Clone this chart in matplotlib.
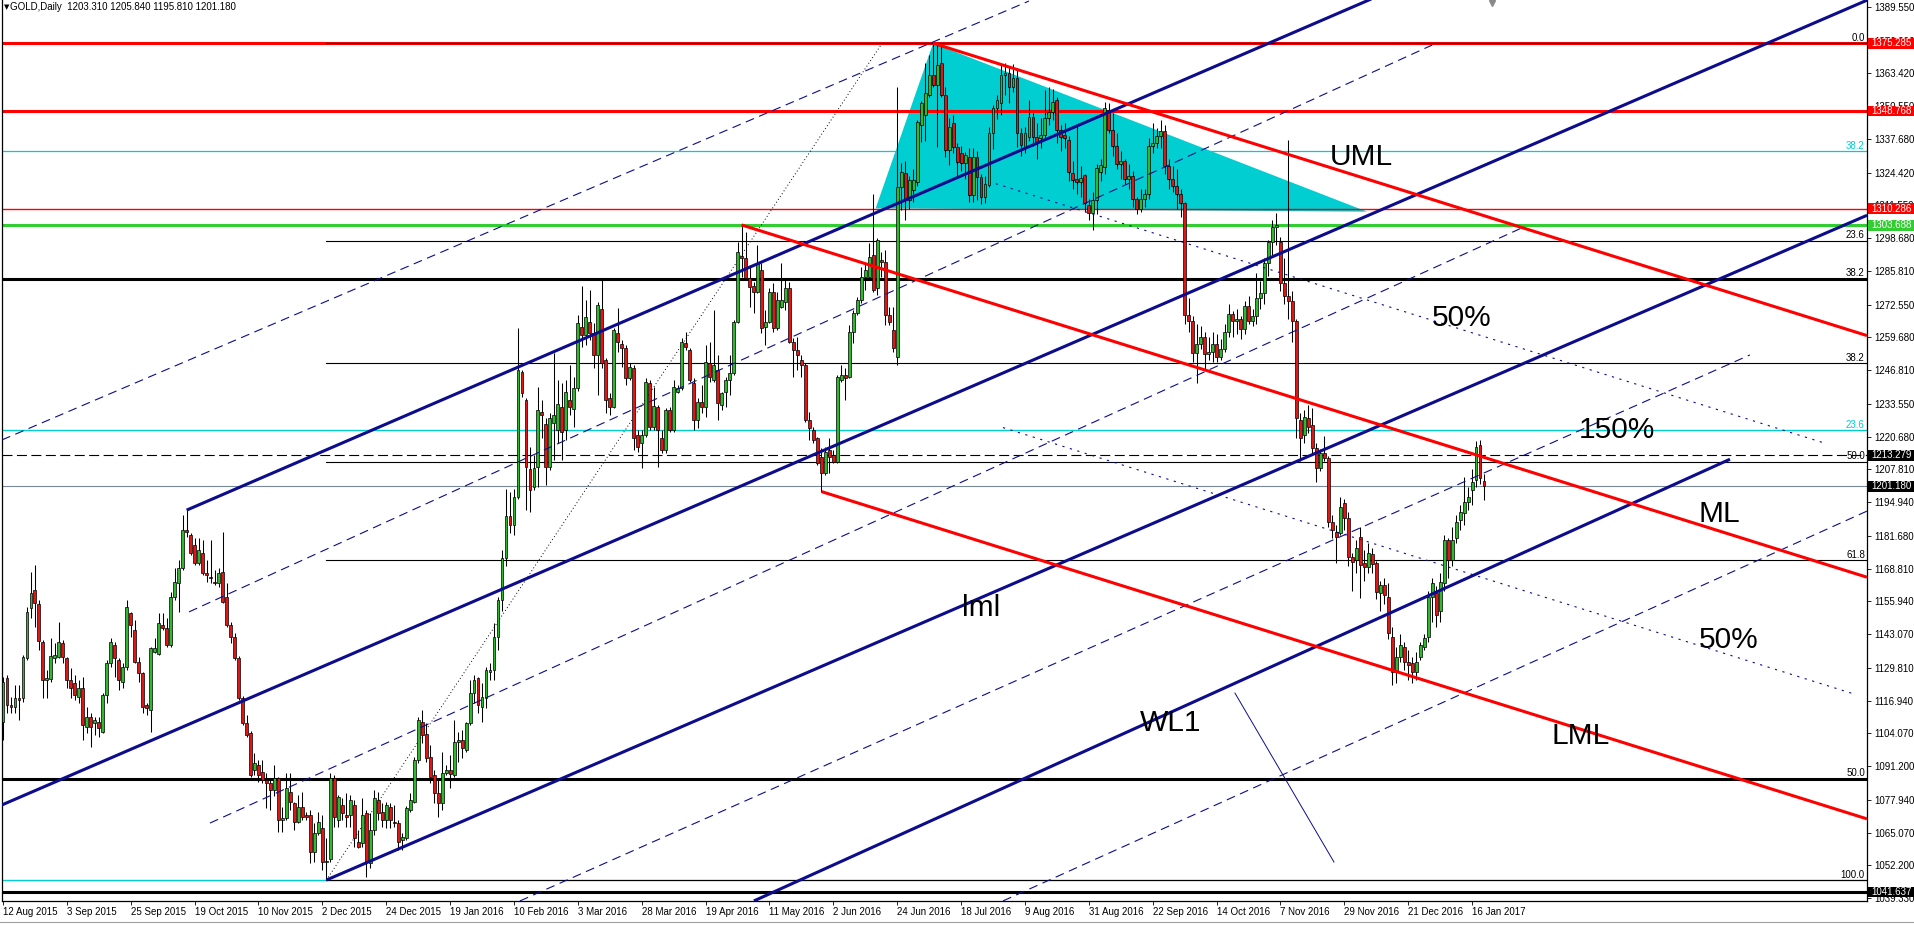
import numpy as np
import matplotlib
matplotlib.use("Agg")
import matplotlib.pyplot as plt
import matplotlib.transforms as mtransforms
from matplotlib.patches import Rectangle, Polygon
from matplotlib.lines import Line2D

plt.rcParams['font.family'] = ['Liberation Sans', 'DejaVu Sans']

# ---------------- daily OHLC (GOLD, 12 Aug 2015 .. 19 Jan 2017) ----------------
OPEN = [
    1108.7, 1125.7, 1115.2, 1114.6, 1117.8, 1117.8, 1133.6, 1153.2, 1160.4, 1154.9, 1140.1, 1125.0, 1125.5, 1133.6, 1134.2, 1139.7,
    1133.6, 1125.0, 1123.7, 1118.5, 1121.8, 1106.7, 1110.6, 1108.0, 1108.7, 1104.7, 1119.1, 1131.6, 1138.8, 1132.9, 1124.4, 1130.3,
    1151.2, 1144.7, 1132.2, 1127.7, 1115.2, 1113.3, 1136.2, 1135.3, 1146.7, 1145.3, 1138.8, 1157.8, 1163.0, 1168.9, 1184.0, 1182.0,
    1178.1, 1170.9, 1174.8, 1167.0, 1165.6, 1163.7, 1163.0, 1167.6, 1157.8, 1146.7, 1142.1, 1133.6, 1117.8, 1108.0, 1104.1, 1089.7,
    1091.6, 1089.0, 1085.7, 1084.4, 1081.8, 1086.4, 1070.0, 1070.7, 1081.1, 1076.6, 1069.4, 1075.3, 1071.9, 1071.9, 1057.6, 1064.8,
    1066.7, 1053.6, 1054.5, 1086.4, 1070.0, 1076.0, 1071.9, 1071.9, 1076.0, 1061.5, 1060.8, 1072.6, 1053.0, 1066.1, 1077.9, 1073.3,
    1070.0, 1075.3, 1069.4, 1068.7, 1062.2, 1062.8, 1073.9, 1077.2, 1093.6, 1108.7, 1104.0, 1094.9, 1087.7, 1080.5, 1076.6, 1088.4,
    1089.7, 1087.7, 1100.8, 1101.5, 1097.5, 1108.0, 1119.8, 1125.7, 1114.6, 1117.8, 1128.3, 1129.0, 1142.1, 1156.5, 1173.0, 1189.5,
    1186.0, 1197.1, 1246.2, 1235.1, 1207.8, 1200.8, 1208.9, 1230.5, 1225.7, 1208.9, 1225.9, 1223.3, 1232.5, 1223.3, 1235.1, 1231.4,
    1239.7, 1263.9, 1260.6, 1265.6, 1261.3, 1252.8, 1270.7, 1250.8, 1235.7, 1232.5, 1261.3, 1257.1, 1255.4, 1243.6, 1247.5, 1221.3,
    1218.1, 1221.3, 1241.9, 1224.6, 1232.5, 1220.0, 1215.4, 1231.2, 1223.3, 1238.4, 1239.7, 1257.6, 1254.7, 1241.6, 1227.2, 1234.4,
    1232.5, 1249.5, 1242.9, 1246.9, 1233.1, 1238.4, 1242.9, 1245.6, 1265.9, 1291.7, 1290.8, 1282.9, 1279.9, 1277.7, 1286.0, 1263.9,
    1265.9, 1277.7, 1263.3, 1271.8, 1273.7, 1279.0, 1258.0, 1254.7, 1250.8, 1248.8, 1227.2, 1223.3, 1220.0, 1212.8, 1206.3, 1215.4,
    1213.5, 1210.9, 1242.9, 1244.9, 1244.3, 1262.0, 1269.2, 1274.4, 1283.6, 1283.6, 1292.1, 1279.0, 1290.1, 1289.5, 1268.5, 1262.6,
    1252.0, 1318.9, 1324.2, 1313.7, 1317.6, 1320.9, 1343.0, 1347.1, 1355.0, 1362.8, 1358.9, 1367.4, 1355.0, 1333.3, 1343.8, 1334.7,
    1332.0, 1328.1, 1330.7, 1315.7, 1330.7, 1322.9, 1315.0, 1319.6, 1339.9, 1349.7, 1351.7, 1362.8, 1363.5, 1358.2, 1361.5, 1339.9,
    1334.7, 1338.6, 1346.4, 1338.6, 1337.9, 1339.2, 1345.8, 1348.4, 1353.0, 1341.2, 1339.2, 1337.3, 1324.2, 1321.8, 1320.9, 1323.5,
    1311.7, 1308.4, 1313.7, 1324.8, 1326.8, 1349.0, 1341.2, 1335.0, 1328.0, 1329.0, 1322.0, 1323.0, 1314.0, 1310.0, 1314.0, 1316.0,
    1335.0, 1336.0, 1339.0, 1341.0, 1327.0, 1322.0, 1319.0, 1316.0, 1312.4, 1268.5, 1266.0, 1253.4, 1257.0, 1260.0, 1253.0, 1254.0,
    1257.0, 1252.0, 1255.0, 1262.0, 1269.0, 1266.0, 1267.0, 1263.0, 1272.0, 1266.0, 1268.0, 1275.0, 1277.0, 1289.0, 1297.0, 1303.0,
    1297.0, 1281.0, 1276.0, 1274.0, 1266.0, 1227.2, 1221.3, 1227.9, 1225.3, 1216.1, 1208.2, 1214.1, 1212.2, 1187.3, 1183.3, 1182.7,
    1194.5, 1188.6, 1173.5, 1172.2, 1181.4, 1170.9, 1169.6, 1174.6, 1170.9, 1159.1, 1162.4, 1157.8, 1142.1, 1128.3, 1134.2, 1138.1,
    1132.3, 1131.6, 1128.3, 1134.2, 1138.1, 1142.1, 1157.8, 1159.1, 1152.0, 1163.1, 1180.1, 1172.2, 1180.7, 1187.9, 1190.5, 1195.1,
    1199.7, 1203.6, 1217.4, 1203.31,
]
HIGH = [
    1126.4, 1127.0, 1118.5, 1123.1, 1123.1, 1134.9, 1153.9, 1167.6, 1170.2, 1156.5, 1140.8, 1129.0, 1141.4, 1139.4, 1148.0, 1140.8,
    1134.2, 1129.6, 1127.0, 1125.0, 1126.4, 1114.6, 1111.9, 1110.6, 1110.6, 1120.0, 1132.9, 1141.4, 1140.1, 1133.6, 1131.6, 1156.5,
    1151.9, 1148.6, 1134.2, 1128.3, 1115.9, 1138.1, 1141.4, 1151.2, 1151.2, 1149.3, 1159.8, 1168.9, 1172.2, 1189.9, 1191.8, 1182.7,
    1180.7, 1180.7, 1180.1, 1172.2, 1180.1, 1168.3, 1168.9, 1183.3, 1163.0, 1148.0, 1143.4, 1134.5, 1118.9, 1111.3, 1105.0, 1096.2,
    1093.6, 1093.6, 1088.4, 1086.4, 1091.5, 1087.0, 1075.3, 1088.4, 1088.4, 1077.2, 1079.8, 1081.1, 1073.3, 1073.9, 1068.7, 1073.3,
    1071.9, 1062.8, 1088.4, 1087.5, 1079.8, 1078.5, 1080.5, 1079.8, 1077.9, 1066.1, 1078.5, 1073.9, 1072.6, 1081.8, 1081.1, 1076.6,
    1077.2, 1076.6, 1075.9, 1070.0, 1064.8, 1075.5, 1080.5, 1094.9, 1110.6, 1113.3, 1108.0, 1099.5, 1089.7, 1086.4, 1096.9, 1091.6,
    1095.6, 1109.3, 1104.7, 1105.4, 1108.7, 1125.0, 1127.0, 1126.4, 1123.7, 1130.3, 1131.6, 1147.3, 1157.8, 1176.0, 1200.0, 1199.0,
    1200.0, 1263.3, 1246.9, 1235.7, 1216.7, 1213.5, 1240.3, 1235.1, 1227.9, 1229.9, 1253.4, 1242.9, 1241.6, 1242.9, 1248.8, 1244.3,
    1268.5, 1279.9, 1274.4, 1278.3, 1265.2, 1273.7, 1282.3, 1251.5, 1237.7, 1263.3, 1271.1, 1258.7, 1256.7, 1249.5, 1248.8, 1223.3,
    1223.3, 1243.6, 1243.0, 1240.3, 1233.1, 1223.3, 1231.8, 1232.5, 1242.9, 1241.0, 1259.3, 1262.0, 1255.4, 1243.6, 1235.7, 1241.0,
    1256.7, 1258.0, 1270.5, 1252.8, 1238.4, 1244.3, 1252.8, 1266.5, 1297.3, 1303.9, 1301.2, 1288.2, 1281.6, 1296.0, 1288.8, 1270.5,
    1279.0, 1281.0, 1277.7, 1288.8, 1282.3, 1281.6, 1259.3, 1260.0, 1252.8, 1249.5, 1230.5, 1224.6, 1220.7, 1216.1, 1216.7, 1220.0,
    1215.4, 1244.9, 1248.8, 1247.5, 1264.6, 1270.5, 1275.7, 1287.5, 1288.8, 1296.7, 1316.0, 1298.6, 1293.4, 1294.0, 1271.8, 1271.8,
    1358.2, 1328.1, 1329.0, 1323.0, 1326.0, 1345.0, 1352.5, 1367.4, 1370.7, 1375.3, 1374.6, 1374.6, 1358.2, 1346.0, 1347.0, 1336.0,
    1335.0, 1332.5, 1334.0, 1334.0, 1333.0, 1324.0, 1323.0, 1342.5, 1351.0, 1354.9, 1367.4, 1367.4, 1366.0, 1367.0, 1365.0, 1342.0,
    1342.5, 1353.0, 1348.0, 1344.0, 1346.0, 1357.0, 1358.0, 1357.5, 1354.0, 1343.0, 1344.0, 1339.0, 1329.0, 1343.0, 1327.0, 1324.0,
    1314.0, 1317.0, 1328.0, 1330.0, 1352.3, 1352.0, 1348.0, 1340.0, 1333.0, 1330.0, 1328.0, 1325.0, 1315.0, 1318.0, 1318.0, 1338.0,
    1344.0, 1342.0, 1345.0, 1343.0, 1330.0, 1327.0, 1326.0, 1318.0, 1313.0, 1275.0, 1268.0, 1265.0, 1264.0, 1262.0, 1260.0, 1262.0,
    1261.0, 1259.0, 1265.0, 1273.0, 1270.0, 1271.0, 1268.0, 1274.0, 1276.0, 1271.0, 1285.0, 1282.0, 1291.0, 1298.0, 1306.0, 1308.5,
    1299.0, 1291.0, 1337.3, 1278.0, 1267.0, 1230.0, 1231.0, 1233.0, 1232.0, 1218.0, 1216.0, 1221.0, 1213.0, 1190.0, 1186.0, 1197.0,
    1196.0, 1191.0, 1175.0, 1180.0, 1185.3, 1176.0, 1179.0, 1177.0, 1172.0, 1164.0, 1165.0, 1163.0, 1146.0, 1138.0, 1143.0, 1140.0,
    1137.0, 1134.0, 1136.0, 1140.0, 1143.0, 1160.0, 1165.0, 1162.0, 1167.0, 1182.0, 1181.0, 1185.0, 1190.0, 1194.0, 1205.0, 1201.0,
    1208.0, 1219.0, 1219.5, 1205.84,
]
LOW = [
    1101.5, 1111.9, 1111.9, 1111.9, 1109.3, 1116.5, 1132.9, 1149.3, 1146.0, 1136.8, 1117.8, 1118.0, 1124.4, 1131.6, 1133.6, 1131.6,
    1121.8, 1117.8, 1117.2, 1115.9, 1101.5, 1104.1, 1098.8, 1103.4, 1102.8, 1104.1, 1115.9, 1130.3, 1126.4, 1121.1, 1121.8, 1129.0,
    1142.1, 1131.6, 1124.4, 1111.9, 1111.3, 1104.7, 1135.5, 1134.9, 1144.7, 1138.1, 1138.1, 1156.5, 1151.9, 1168.3, 1181.4, 1174.2,
    1170.2, 1170.2, 1166.3, 1163.7, 1163.0, 1162.4, 1161.7, 1155.2, 1146.0, 1139.4, 1132.9, 1117.2, 1107.4, 1102.8, 1087.0, 1087.7,
    1085.1, 1084.4, 1074.6, 1073.9, 1079.5, 1065.4, 1065.4, 1070.0, 1073.9, 1066.1, 1068.7, 1070.0, 1070.0, 1053.0, 1053.6, 1064.1,
    1050.4, 1046.4, 1053.6, 1067.4, 1067.4, 1070.0, 1067.4, 1067.4, 1059.5, 1058.9, 1059.5, 1047.7, 1051.0, 1064.1, 1070.0, 1067.4,
    1066.7, 1066.7, 1067.4, 1058.2, 1058.2, 1062.2, 1073.3, 1076.6, 1092.3, 1100.1, 1092.9, 1084.4, 1076.6, 1071.3, 1074.0, 1087.7,
    1082.5, 1087.0, 1092.9, 1094.2, 1096.9, 1107.4, 1115.9, 1111.9, 1108.7, 1113.9, 1125.0, 1125.0, 1136.8, 1152.0, 1170.0, 1183.0,
    1182.0, 1196.0, 1236.4, 1191.9, 1191.2, 1199.7, 1201.0, 1220.0, 1201.7, 1207.6, 1211.5, 1218.1, 1211.5, 1219.4, 1229.2, 1224.6,
    1238.5, 1256.0, 1256.7, 1258.7, 1247.5, 1237.1, 1247.5, 1229.9, 1229.2, 1231.8, 1254.1, 1248.2, 1241.0, 1242.9, 1215.4, 1214.8,
    1208.2, 1220.7, 1223.3, 1223.3, 1208.9, 1214.1, 1214.1, 1222.6, 1222.6, 1237.7, 1239.0, 1254.7, 1242.3, 1223.3, 1223.9, 1229.9,
    1228.5, 1242.3, 1242.3, 1227.2, 1231.2, 1232.5, 1237.1, 1244.9, 1265.2, 1283.6, 1282.3, 1271.8, 1269.2, 1277.0, 1261.3, 1256.7,
    1265.2, 1262.0, 1262.6, 1271.1, 1270.5, 1257.4, 1244.3, 1246.9, 1244.3, 1226.6, 1219.4, 1218.1, 1209.5, 1199.1, 1205.6, 1206.3,
    1210.2, 1210.2, 1242.3, 1235.1, 1243.6, 1257.4, 1268.5, 1273.1, 1278.3, 1282.9, 1277.7, 1276.4, 1283.6, 1264.6, 1264.6, 1254.1,
    1249.0, 1309.8, 1306.0, 1310.0, 1313.0, 1319.0, 1336.5, 1337.0, 1354.0, 1358.0, 1334.7, 1354.0, 1330.7, 1327.5, 1332.0, 1322.2,
    1325.0, 1322.0, 1313.0, 1313.0, 1313.5, 1312.0, 1312.5, 1318.9, 1333.9, 1345.5, 1347.0, 1355.0, 1352.0, 1356.0, 1334.5, 1331.0,
    1332.0, 1337.0, 1335.0, 1330.0, 1334.0, 1338.0, 1343.0, 1345.0, 1336.0, 1333.0, 1334.0, 1321.0, 1318.0, 1316.0, 1315.0, 1309.0,
    1306.0, 1302.0, 1308.0, 1321.0, 1324.0, 1340.0, 1331.0, 1326.0, 1322.0, 1320.0, 1318.0, 1311.0, 1308.0, 1309.0, 1311.0, 1314.0,
    1332.0, 1334.0, 1334.0, 1324.0, 1318.0, 1317.0, 1310.0, 1307.0, 1265.0, 1262.0, 1250.0, 1241.6, 1255.0, 1247.0, 1251.0, 1250.0,
    1250.0, 1251.0, 1254.0, 1260.0, 1260.0, 1261.0, 1259.0, 1261.0, 1265.0, 1264.0, 1265.0, 1271.0, 1273.0, 1284.0, 1292.0, 1296.0,
    1278.0, 1273.0, 1267.0, 1258.0, 1220.0, 1211.0, 1218.0, 1222.0, 1214.0, 1203.0, 1207.0, 1211.0, 1185.0, 1181.0, 1171.0, 1182.0,
    1184.0, 1170.0, 1160.0, 1167.0, 1157.1, 1164.0, 1167.0, 1167.0, 1157.0, 1152.0, 1155.0, 1141.0, 1123.1, 1124.0, 1132.0, 1129.0,
    1125.0, 1124.0, 1125.0, 1133.0, 1137.0, 1140.0, 1148.0, 1146.0, 1148.0, 1160.0, 1165.0, 1170.0, 1179.0, 1184.0, 1186.0, 1192.0,
    1194.0, 1201.0, 1202.0, 1195.81,
]
CLOSE = [
    1124.4, 1115.2, 1114.6, 1117.8, 1117.2, 1134.2, 1151.9, 1159.4, 1155.2, 1140.5, 1125.0, 1126.0, 1134.5, 1134.9, 1140.1, 1134.2,
    1125.0, 1121.8, 1119.1, 1121.8, 1107.4, 1110.6, 1106.7, 1109.3, 1106.1, 1119.1, 1131.6, 1140.1, 1133.6, 1125.0, 1130.3, 1153.9,
    1146.7, 1132.2, 1127.7, 1114.6, 1113.9, 1137.5, 1137.5, 1147.3, 1145.3, 1138.8, 1157.8, 1163.7, 1168.9, 1184.0, 1183.3, 1174.8,
    1170.9, 1176.1, 1167.0, 1166.3, 1165.0, 1163.0, 1167.0, 1155.8, 1146.7, 1142.1, 1133.6, 1117.8, 1108.0, 1103.4, 1087.7, 1092.3,
    1087.7, 1085.7, 1084.4, 1081.8, 1086.4, 1070.0, 1070.7, 1082.5, 1077.2, 1069.4, 1075.3, 1071.3, 1071.3, 1057.6, 1064.8, 1069.4,
    1053.6, 1054.0, 1086.4, 1071.3, 1079.2, 1072.6, 1071.3, 1077.9, 1062.8, 1059.5, 1071.9, 1053.6, 1066.1, 1078.5, 1072.6, 1070.0,
    1075.9, 1070.0, 1068.7, 1061.5, 1063.5, 1074.6, 1077.9, 1093.6, 1109.3, 1103.4, 1094.2, 1087.0, 1080.5, 1076.6, 1088.4, 1089.7,
    1088.0, 1100.8, 1101.5, 1098.2, 1108.0, 1119.8, 1125.0, 1115.2, 1118.5, 1129.0, 1129.0, 1142.1, 1156.5, 1173.0, 1189.5, 1186.0,
    1197.1, 1246.9, 1238.0, 1208.9, 1199.7, 1208.2, 1231.2, 1229.2, 1208.9, 1227.9, 1229.2, 1233.5, 1222.6, 1238.4, 1232.5, 1239.7,
    1265.2, 1260.6, 1267.8, 1261.6, 1252.8, 1272.4, 1249.5, 1235.1, 1232.5, 1262.6, 1258.0, 1255.4, 1243.6, 1248.2, 1220.0, 1216.7,
    1221.3, 1242.3, 1224.6, 1232.7, 1223.3, 1215.4, 1231.2, 1223.3, 1240.3, 1239.7, 1258.0, 1255.8, 1242.9, 1227.2, 1234.4, 1232.5,
    1250.2, 1244.3, 1248.8, 1233.8, 1237.7, 1242.9, 1245.6, 1265.9, 1293.4, 1290.8, 1282.9, 1279.6, 1277.7, 1288.8, 1263.3, 1265.9,
    1277.7, 1263.3, 1274.4, 1274.4, 1279.0, 1258.0, 1254.7, 1252.8, 1248.8, 1227.2, 1223.9, 1219.4, 1210.2, 1206.3, 1214.8, 1212.8,
    1210.9, 1244.3, 1244.9, 1243.6, 1262.0, 1269.2, 1274.4, 1283.6, 1286.2, 1291.4, 1278.3, 1298.0, 1289.5, 1268.5, 1265.9, 1255.4,
    1318.9, 1324.8, 1313.7, 1321.5, 1321.5, 1344.5, 1351.7, 1355.6, 1362.8, 1358.9, 1366.8, 1355.0, 1333.3, 1342.5, 1334.7, 1328.8,
    1328.1, 1331.4, 1315.7, 1330.7, 1322.9, 1315.0, 1320.0, 1339.9, 1349.7, 1353.0, 1362.8, 1363.5, 1358.2, 1361.5, 1339.9, 1335.3,
    1339.9, 1346.4, 1338.6, 1336.6, 1339.2, 1345.8, 1348.4, 1352.3, 1341.2, 1338.6, 1337.9, 1324.8, 1321.5, 1320.9, 1322.5, 1312.4,
    1308.4, 1313.7, 1326.1, 1327.4, 1349.7, 1341.2, 1335.0, 1328.0, 1329.0, 1322.0, 1323.0, 1314.0, 1310.0, 1314.0, 1316.0, 1335.0,
    1336.0, 1339.0, 1341.0, 1327.0, 1322.0, 1319.0, 1316.0, 1312.4, 1268.5, 1266.0, 1253.4, 1257.0, 1260.0, 1253.0, 1254.0, 1257.0,
    1252.0, 1255.0, 1262.0, 1269.0, 1266.0, 1267.0, 1263.0, 1272.0, 1266.0, 1268.0, 1275.0, 1277.0, 1289.0, 1297.0, 1303.0, 1304.0,
    1281.0, 1276.0, 1274.0, 1266.0, 1227.9, 1220.0, 1228.5, 1224.6, 1216.1, 1208.2, 1214.1, 1212.2, 1187.3, 1184.0, 1181.4, 1193.2,
    1188.6, 1173.5, 1171.5, 1176.8, 1170.2, 1169.6, 1174.8, 1170.6, 1159.8, 1162.4, 1158.4, 1143.4, 1128.3, 1134.2, 1138.8, 1132.3,
    1130.9, 1128.3, 1132.3, 1138.8, 1141.4, 1157.8, 1163.1, 1150.6, 1163.7, 1180.1, 1172.2, 1180.1, 1187.3, 1191.2, 1195.1, 1197.1,
    1203.0, 1216.7, 1204.3, 1201.18,
]

DATE_BARS = list(range(0, 369, 16))
DATE_LABELS = ["12 Aug 2015", "3 Sep 2015", "25 Sep 2015", "19 Oct 2015", "10 Nov 2015", "2 Dec 2015",
               "24 Dec 2015", "19 Jan 2016", "10 Feb 2016", "3 Mar 2016", "28 Mar 2016", "19 Apr 2016",
               "11 May 2016", "2 Jun 2016", "24 Jun 2016", "18 Jul 2016", "9 Aug 2016", "31 Aug 2016",
               "22 Sep 2016", "14 Oct 2016", "7 Nov 2016", "29 Nov 2016", "21 Dec 2016", "16 Jan 2017"]

PRICE_TICKS = [1389.55, 1376.29, 1363.42, 1350.55, 1337.68, 1324.42, 1311.55, 1298.68, 1285.81, 1272.55,
               1259.68, 1246.81, 1233.55, 1220.68, 1207.81, 1194.94, 1181.68, 1168.81, 1155.94, 1143.07,
               1129.81, 1116.94, 1104.07, 1091.20, 1077.94, 1065.07, 1052.20, 1039.33]

# horizontal levels drawn across the whole chart
HL_PRICES = [1375.285, 1348.768, 1332.8, 1310.286, 1303.688, 1282.8, 1223.3, 1213.279, 1086.2, 1046.3, 1041.637]
HL_COLORS = ['#ff0000', '#ff0000', '#00ced1', '#ff0000', '#32cd32', 'black', '#00ced1', 'black', 'black', '#00ced1', 'black']
HL_WIDTHS = [2.2, 2.2, 0.9, 1.0, 2.2, 2.2, 1.0, 0.8, 2.2, 1.0, 2.2]
HL_DASHED = [False, False, False, False, False, False, False, True, False, False, False]

# labelled boxes on the price scale
BOX_PRICES = [1375.285, 1348.768, 1310.286, 1303.688, 1213.279, 1041.637]
BOX_COLORS = ['#ff0000', '#ff0000', '#ff0000', '#32cd32', 'black', 'black']

# level captions inside the right edge
LEVEL_TEXT_PRICES = [1332.8, 1282.8, 1223.3, 1086.2]
LEVEL_TEXT = ["38.2", "38.2", "23.6", "50.0"]
LEVEL_TEXT_COLORS = ['#00ced1', 'black', '#00ced1', 'black']

# Fibonacci retracement (Dec-2015 low -> Jul-2016 high)
FIB_BAR_START = 81
FIB_BAR_END = 220.2
FIB_HIGH = 1375.285
FIB_LEVELS = [0.0, 23.6, 38.2, 50.0, 61.8, 100.0]

# Andrews pitchfork (blue): pivots B (Oct-2015 high) and C (Dec-2015 low), median slope per bar
BLUE_B_BAR, BLUE_C_BAR = 46, 81
BLUE_SLOPE = 0.677

# Andrews pitchfork (red): A = May-2016 high, B = Jul-2016 high, C = May-2016 low
RED_A_BAR, RED_B_BAR, RED_C_BAR = 185, 233, 205
MID50_UPPER_BARS = (248.7, 455.9)
MID50_LOWER_BARS = (250.5, 463.4)

# extra hand drawn lines: (bar, price) end points
DASH_LINES = [
    ((-0.25, 1219.4), (257.0, 1391.9)),
    ((46.6, 1151.8), (358.0, 1374.6)),
    ((51.85, 1068.8), (381.0, 1303.1)),
    ((129.5, 1038.2), (437.6, 1252.8)),
    ((250.5, 1038.2), (466.9, 1191.4)),
]
WL1_LINE = ((188.1, 1038.2), (432.6, 1211.8))
THIN_LINE = ((308.6, 1119.9), (333.4, 1053.5))

# shaded triangle
TRI_LEFT = (218.6, 1310.4)
TRI_RIGHT = (341.7, 1309.1)

# chart captions (bar, price)
CAPTIONS = [("UML", 340.2, 1330.4), ("50%", 365.5, 1267.5), ("150%", 404.2, 1223.4), ("ML", 430.0, 1190.4),
            ("50%", 432.2, 1140.7), ("LML", 395.2, 1103.2), ("lml", 245.0, 1153.2), ("WL1", 292.5, 1108.3)]

# ------------------------------------------------------------------------------
n = min(len(OPEN), len(HIGH), len(LOW), len(CLOSE))
o = np.array(OPEN[:n]); h = np.array(HIGH[:n]); l = np.array(LOW[:n]); c = np.array(CLOSE[:n])
idx = np.arange(n)

W, H = 1915, 925
fig = plt.figure(figsize=(W / 100, H / 100), dpi=100)
fig.patch.set_facecolor('white')
ax = fig.add_axes([2 / W, 24 / H, 1865 / W, 901 / H])
XMIN, XMAX = -0.25, 466.93
YMIN, YMAX = 1038.17, 1392.30
ax.set_xlim(XMIN, XMAX)
ax.set_ylim(YMIN, YMAX)
PX = (YMAX - YMIN) / 901.0

NAVY = '#0c0c8c'
RED = '#ff0000'
BULL = '#2eb82e'
BEAR = '#e31414'

# triangle
ax.add_patch(Polygon([TRI_LEFT, (RED_B_BAR, h[RED_B_BAR]), TRI_RIGHT], closed=True,
                     facecolor='#00ced1', edgecolor='none', zorder=1))

# horizontal lines
for p, col, lw, dsh in zip(HL_PRICES, HL_COLORS, HL_WIDTHS, HL_DASHED):
    ax.axhline(p, color=col, lw=lw, ls=(0, (9, 4)) if dsh else '-', zorder=2)
ax.axhline(c[-1], color='#778899', lw=0.8, zorder=2)

# fibonacci
fib_low = l[FIB_BAR_START]
fib_prices = [FIB_HIGH - lv / 100.0 * (FIB_HIGH - fib_low) for lv in FIB_LEVELS]
for p in fib_prices:
    ax.plot([FIB_BAR_START, XMAX], [p, p], color='black', lw=0.8, zorder=2.2)
ax.plot([FIB_BAR_START, FIB_BAR_END], [fib_low, FIB_HIGH], color='black', lw=0.7,
        ls=(0, (1, 2.5)), zorder=2.3)

# candles
ax.vlines(idx, l, h, color='black', lw=0.75, zorder=3)
up = c >= o
bb = np.minimum(o, c)
bh = np.abs(c - o)
ax.bar(idx[up], bh[up], bottom=bb[up], width=0.72, color=BULL, edgecolor='black', linewidth=0.5, zorder=3.1)
ax.bar(idx[~up], bh[~up], bottom=bb[~up], width=0.72, color=BEAR, edgecolor='black', linewidth=0.5, zorder=3.1)

# blue pitchfork
mid_bar = (BLUE_B_BAR + BLUE_C_BAR) / 2.0
mid_p = (h[BLUE_B_BAR] + l[BLUE_C_BAR]) / 2.0
def seg(b0, p0, slope, b1):
    return [b0, b1], [p0, p0 + slope * (b1 - b0)]
xs, ys = seg(mid_bar, mid_p, BLUE_SLOPE, XMIN)
ax.plot([XMIN, XMAX], [ys[1], mid_p + BLUE_SLOPE * (XMAX - mid_bar)], color=NAVY, lw=2.2, zorder=4, solid_capstyle='butt')
ax.plot(*seg(BLUE_B_BAR, h[BLUE_B_BAR], BLUE_SLOPE, XMAX), color=NAVY, lw=2.2, zorder=4, solid_capstyle='butt')
ax.plot(*seg(BLUE_C_BAR, l[BLUE_C_BAR], BLUE_SLOPE, XMAX), color=NAVY, lw=2.2, zorder=4, solid_capstyle='butt')
(a0, a1), (b0_, b1_) = WL1_LINE
ax.plot([a0, b0_], [a1, b1_], color=NAVY, lw=2.2, zorder=4, solid_capstyle='butt')
for (x0, y0), (x1, y1) in DASH_LINES:
    ax.plot([x0, x1], [y0, y1], color=NAVY, lw=0.8, ls=(0, (8, 5)), zorder=4)
(t0, t1), (t2, t3) = THIN_LINE
ax.plot([t0, t2], [t1, t3], color=NAVY, lw=0.7, zorder=4)

# red pitchfork
A = (RED_A_BAR, h[RED_A_BAR]); B = (RED_B_BAR, h[RED_B_BAR]); C = (RED_C_BAR, l[RED_C_BAR])
M = ((B[0] + C[0]) / 2.0, (B[1] + C[1]) / 2.0)
rs = (M[1] - A[1]) / (M[0] - A[0])
for P in (A, B, C):
    ax.plot(*seg(P[0], P[1], rs, XMAX), color=RED, lw=2.2, zorder=4.1, solid_capstyle='butt')
def red_mid(P, Q, b):
    return (P[1] + rs * (b - P[0]) + Q[1] + rs * (b - Q[0])) / 2.0
for (P, Q), (bs, be) in (((B, A), MID50_UPPER_BARS), ((A, C), MID50_LOWER_BARS)):
    ax.plot([bs, be], [red_mid(P, Q, bs), red_mid(P, Q, be)], color=NAVY, lw=0.8, ls=(0, (2, 5)), zorder=4)

# captions
for txt, bx, py in CAPTIONS:
    ax.text(bx, py, txt, fontsize=21.5, ha='center', va='center', color='black', zorder=6)

# axes styling
for s in ['top']:
    ax.spines[s].set_visible(False)
for s in ['left', 'right', 'bottom']:
    ax.spines[s].set_linewidth(0.9)
ax.yaxis.tick_right()
ax.set_yticks(PRICE_TICKS)
ax.set_yticklabels([f"{v:.3f}" for v in PRICE_TICKS], fontsize=7)
ax.tick_params(axis='y', direction='out', length=3, width=0.6, pad=2.5)
ax.set_xticks(DATE_BARS[:len(DATE_LABELS)])
ax.set_xticklabels(DATE_LABELS, fontsize=7, ha='left')
ax.tick_params(axis='x', direction='out', length=3, width=0.6, pad=1.5)

trans = mtransforms.blended_transform_factory(ax.transAxes, ax.transData)
box_w = 47.0 / 1865.0
box_h = 10.5 * PX
for p, col in list(zip(BOX_PRICES, BOX_COLORS)) + [(c[-1], 'black')]:
    ax.add_patch(Rectangle((1.0006, p - box_h / 2), box_w, box_h, transform=trans, facecolor=col,
                           edgecolor='none', clip_on=False, zorder=10))
    ax.text(1.0006 + 3.5 / 1865.0, p, f"{p:.3f}", transform=trans, color='white', fontsize=7,
            va='center', ha='left', zorder=11, clip_on=False)

# level captions
for p, lv in zip(fib_prices, FIB_LEVELS):
    ax.annotate(f"{lv:.1f}", xy=(1.0, p), xycoords=trans, xytext=(-1.5, 0.3), textcoords='offset points',
                ha='right', va='bottom', fontsize=7, color='black', zorder=6)
for p, txt, col in zip(LEVEL_TEXT_PRICES, LEVEL_TEXT, LEVEL_TEXT_COLORS):
    ax.annotate(txt, xy=(1.0, p), xycoords=trans, xytext=(-1.5, 0.3), textcoords='offset points',
                ha='right', va='bottom', fontsize=7, color=col, zorder=6)

# chart shift marker
tx = mtransforms.blended_transform_factory(ax.transData, ax.transAxes)
ax.plot([n + 1.0], [0.997], marker='v', color='#8a8a8a', markersize=5, transform=tx, clip_on=False, zorder=7)

# title
fig.text(3.5 / W, 1 - 7.5 / H, "\u25BC", fontsize=5, family='DejaVu Sans', va='center', ha='left')
fig.text(10 / W, 1 - 7.5 / H,
         "GOLD,Daily  " + " ".join(f"{v:.3f}" for v in (o[-1], h[-1], l[-1], c[-1])),
         fontsize=7, va='center', ha='left')

fig.add_artist(Line2D([0, 1], [1 - 922 / H, 1 - 922 / H], color='#a0a0a0', lw=0.8, transform=fig.transFigure))

fig.savefig("out.png", dpi=100, facecolor='white')
